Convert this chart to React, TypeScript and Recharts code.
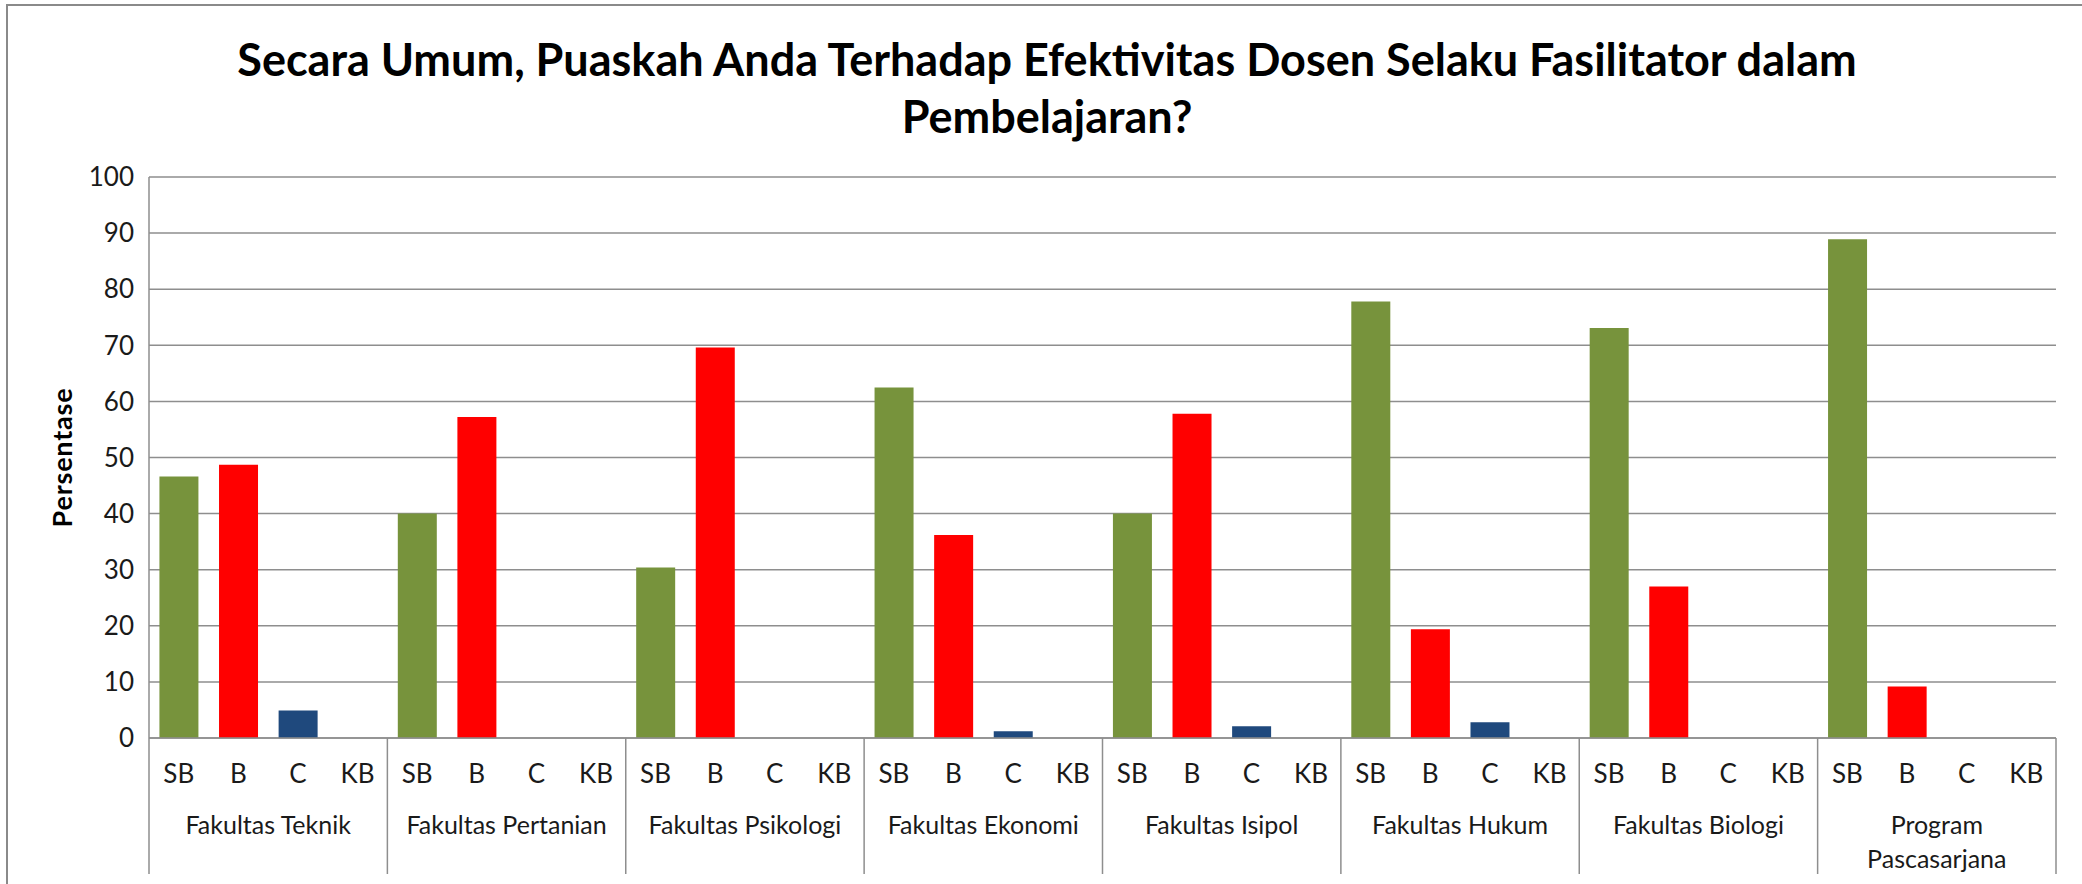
import React from "react";
import { BarChart, Bar, XAxis, YAxis, CartesianGrid, Cell } from "recharts";

const groups = [
  "Fakultas Teknik",
  "Fakultas Pertanian",
  "Fakultas Psikologi",
  "Fakultas Ekonomi",
  "Fakultas Isipol",
  "Fakultas Hukum",
  "Fakultas Biologi",
  "Program\nPascasarjana",
];
const ratings = ["SB", "B", "C", "KB"];

// percentage per faculty, one array per rating
const sbValues = [46.6, 40.0, 30.4, 62.5, 40.0, 77.8, 73.1, 88.9];
const bValues = [48.7, 57.2, 69.6, 36.2, 57.8, 19.4, 27.0, 9.2];
const cValues = [4.9, 0, 0, 1.2, 2.1, 2.8, 0, 0];
const kbValues = [0, 0, 0, 0, 0, 0, 0, 0];

const yTicks = [0, 10, 20, 30, 40, 50, 60, 70, 80, 90, 100];

const ratingColors: Record<string, string> = {
  SB: "#77933C",
  B: "#FF0000",
  C: "#1F497D",
  KB: "#8064A2",
};

const valuesByRating: Record<string, number[]> = {
  SB: sbValues,
  B: bValues,
  C: cValues,
  KB: kbValues,
};

const data = groups.flatMap((g, gi) =>
  ratings.map((r) => ({ group: g, rating: r, value: valuesByRating[r][gi] }))
);

const W = 2082;
const H = 884;
const MARGIN = { top: 177, right: 26, left: 0, bottom: 0 };
const Y_AXIS_W = 149;
const X_AXIS_H = 146;
const BAND = (W - MARGIN.left - MARGIN.right - Y_AXIS_W) / data.length;
const GRID = "#8E8E8E";
const FONT = "Lato, 'Open Sans', sans-serif";

function CategoryTick(props: any) {
  const { x, y, payload, index } = props;
  const last = index === data.length - 1;
  const gi = Math.floor(index / 4);
  const lines = groups[gi].split("\n");
  return (
    <g>
      <text
        x={x}
        y={y + 35}
        textAnchor="middle"
        dominantBaseline="central"
        fontSize={26}
        fill="#1a1a1a"
        fontFamily={FONT}
      >
        {payload.value}
      </text>
      {index % 4 === 0 && (
        <line x1={x - BAND / 2} x2={x - BAND / 2} y1={y} y2={874} stroke={GRID} strokeWidth={1.5} />
      )}
      {last && (
        <line x1={x + BAND / 2} x2={x + BAND / 2} y1={y} y2={874} stroke={GRID} strokeWidth={1.5} />
      )}
      {index % 4 === 1 &&
        lines.map((ln, li) => (
          <text
            key={li}
            x={x + BAND / 2}
            y={y + 86 + li * 34}
            textAnchor="middle"
            dominantBaseline="central"
            fontSize={25}
            fill="#1a1a1a"
            fontFamily={FONT}
          >
            {ln}
          </text>
        ))}
    </g>
  );
}

function YLabel(props: any) {
  const { viewBox } = props;
  const cy = viewBox.y + viewBox.height / 2;
  const cx = 61;
  return (
    <text
      x={cx}
      y={cy}
      transform={`rotate(-90 ${cx} ${cy})`}
      textAnchor="middle"
      dominantBaseline="central"
      fontSize={27}
      fontWeight={700}
      letterSpacing={0.8}
      fill="#000"
      fontFamily={FONT}
    >
      Persentase
    </text>
  );
}

export default function App() {
  return (
    <div
      style={{
        position: "fixed",
        left: 0,
        top: 0,
        width: W,
        height: H,
        overflow: "hidden",
        background: "#fff",
        fontFamily: FONT,
      }}
    >
      <div
        style={{
          position: "absolute",
          left: 6,
          top: 4,
          width: 2300,
          height: 1000,
          border: "2px solid #8a8a8a",
        }}
      />
      <div
        style={{
          position: "absolute",
          left: 0,
          top: 31,
          width: 2094,
          textAlign: "center",
          fontSize: 45,
          fontWeight: 700,
          lineHeight: "57px",
          color: "#000",
        }}
      >
        Secara Umum, Puaskah Anda Terhadap Efektivitas Dosen Selaku Fasilitator dalam
        <br />
        Pembelajaran?
      </div>
      <div style={{ position: "absolute", left: 0, top: 0 }}>
        <BarChart width={W} height={H} data={data} margin={MARGIN} barCategoryGap="17.5%">
          <CartesianGrid vertical={false} stroke={GRID} strokeWidth={1.5} />
          <XAxis
            dataKey="rating"
            interval={0}
            height={X_AXIS_H}
            tickSize={0}
            tickMargin={0}
            tickLine={false}
            axisLine={{ stroke: GRID, strokeWidth: 1.5 }}
            tick={<CategoryTick />}
          />
          <YAxis
            width={Y_AXIS_W}
            domain={[0, 100]}
            ticks={yTicks}
            interval={0}
            tickSize={0}
            tickMargin={15}
            tickLine={false}
            axisLine={{ stroke: GRID, strokeWidth: 1.5 }}
            tick={{ fontSize: 26, fill: "#1a1a1a", fontFamily: FONT }}
            label={<YLabel />}
          />
          <Bar dataKey="value" isAnimationActive={false}>
            {data.map((d, i) => (
              <Cell key={i} fill={ratingColors[d.rating]} />
            ))}
          </Bar>
        </BarChart>
      </div>
    </div>
  );
}
